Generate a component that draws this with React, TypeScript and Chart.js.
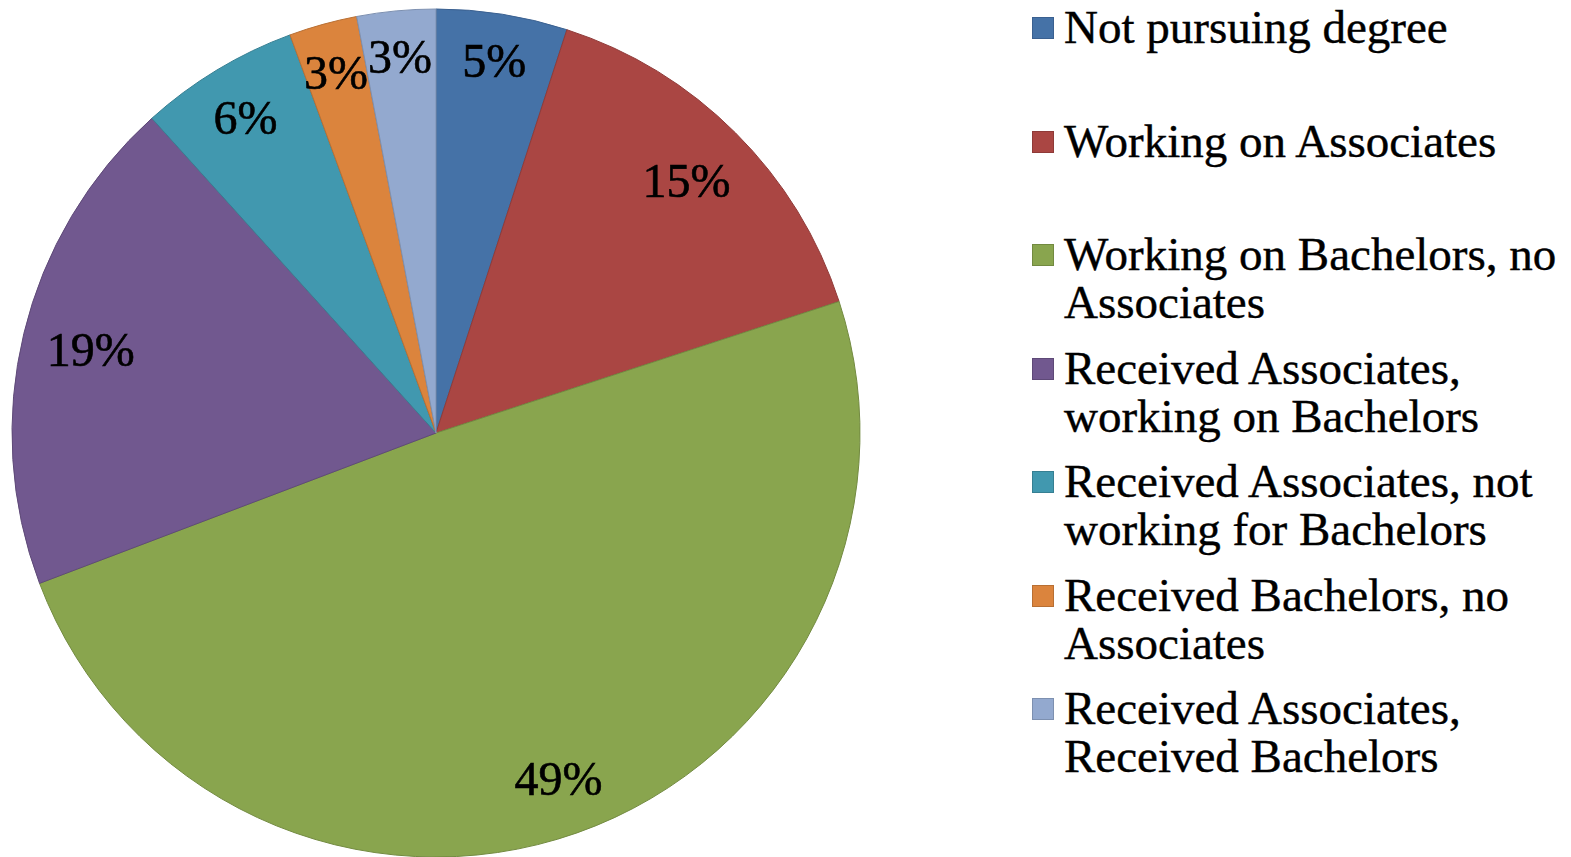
import React, { useEffect, useRef } from "react";
import { Chart, registerables } from "chart.js";

Chart.register(...registerables);

const categories: string[] = [
  "Not pursuing degree",
  "Working on Associates",
  "Working on Bachelors, no\nAssociates",
  "Received Associates,\nworking on Bachelors",
  "Received Associates, not\nworking for Bachelors",
  "Received Bachelors, no\nAssociates",
  "Received Associates,\nReceived Bachelors",
];
const shares: number[] = [5.0, 15.0, 49.3, 19.1, 6.1, 2.6, 3.0];
const fillColors: string[] = ["#4572A7", "#AA4643", "#89A54E", "#71588F", "#4198AF", "#DB843D", "#93A9CF"];
const edgeColors: string[] = ["#3A6090", "#8F3A38", "#728A40", "#5E4977", "#367F92", "#B86F33", "#7D90B0"];

const SERIF = "'Liberation Serif', 'Times New Roman', serif";

const labelPlugin = {
  id: "pctLabels",
  afterDatasetsDraw(chart: any) {
    const ctx = chart.ctx;
    const meta = chart.getDatasetMeta(0);
    const data = chart.data.datasets[0].data as number[];
    const total = data.reduce((a, b) => a + b, 0);
    ctx.save();
    ctx.fillStyle = "#000";
    ctx.strokeStyle = "#000";
    ctx.lineWidth = 0.6;
    ctx.font = `48px ${SERIF}`;
    ctx.textAlign = "left";
    ctx.textBaseline = "alphabetic";
    meta.data.forEach((arc: any, i: number) => {
      const { x, y, startAngle, endAngle, outerRadius } = arc.getProps(
        ["x", "y", "startAngle", "endAngle", "outerRadius"],
        true
      );
      const mid = (startAngle + endAngle) / 2;
      const txt = Math.round((data[i] / total) * 100) + "%";
      const m = ctx.measureText(txt);
      const w = m.actualBoundingBoxRight + m.actualBoundingBoxLeft;
      const h = m.actualBoundingBoxAscent + m.actualBoundingBoxDescent;
      const target = outerRadius * 0.938;
      const cx = Math.cos(mid);
      const sy = Math.sin(mid);
      const far = (d: number) => {
        const px = Math.abs(cx * d) + w / 2;
        const py = Math.abs(sy * d) + h / 2;
        return Math.sqrt(px * px + py * py);
      };
      let lo = 0;
      let hi = outerRadius;
      for (let k = 0; k < 40; k++) {
        const md = (lo + hi) / 2;
        if (far(md) > target) hi = md;
        else lo = md;
      }
      const bx = x + cx * lo;
      const by = y + sy * lo;
      const left = bx - w / 2 + m.actualBoundingBoxLeft;
      const base = by + h / 2 - m.actualBoundingBoxDescent;
      ctx.fillText(txt, left, base);
      ctx.strokeText(txt, left, base);
    });
    ctx.restore();
  },
};

export default function App() {
  const ref = useRef<HTMLCanvasElement | null>(null);

  useEffect(() => {
    if (!ref.current) return;
    const chart = new Chart(ref.current, {
      type: "pie",
      data: {
        labels: categories,
        datasets: [
          {
            data: shares,
            backgroundColor: fillColors,
            borderColor: edgeColors,
            borderWidth: 1,
          },
        ],
      },
      options: {
        animation: false,
        responsive: false,
        radius: 424,
        layout: { padding: 0 },
        plugins: {
          legend: { display: false },
          tooltip: { enabled: false },
        },
      },
      plugins: [labelPlugin],
    });
    return () => chart.destroy();
  }, []);

  return (
    <div
      style={{
        position: "absolute",
        left: 0,
        top: 0,
        width: 1571,
        height: 857,
        overflow: "hidden",
        background: "#fff",
      }}
    >
      <canvas
        ref={ref}
        width={872}
        height={866}
        style={{ position: "absolute", left: 0, top: 0, width: 872, height: 866 }}
      />
      {categories.map((c, i) => (
        <div
          key={c}
          style={{
            position: "absolute",
            left: 1032,
            top: 3 + 113.5 * i,
            display: "flex",
            alignItems: "flex-start",
          }}
        >
          <div
            style={{
              width: 20,
              height: 20,
              marginTop: 14,
              background: fillColors[i],
              border: `1px solid ${edgeColors[i]}`,
              flex: "none",
            }}
          />
          <div
            style={{
              marginLeft: 10,
              fontFamily: SERIF,
              fontSize: 47,
              lineHeight: "48px",
              color: "#000",
              whiteSpace: "pre",
              WebkitTextStroke: "0.4px #000",
            }}
          >
            {c}
          </div>
        </div>
      ))}
    </div>
  );
}
